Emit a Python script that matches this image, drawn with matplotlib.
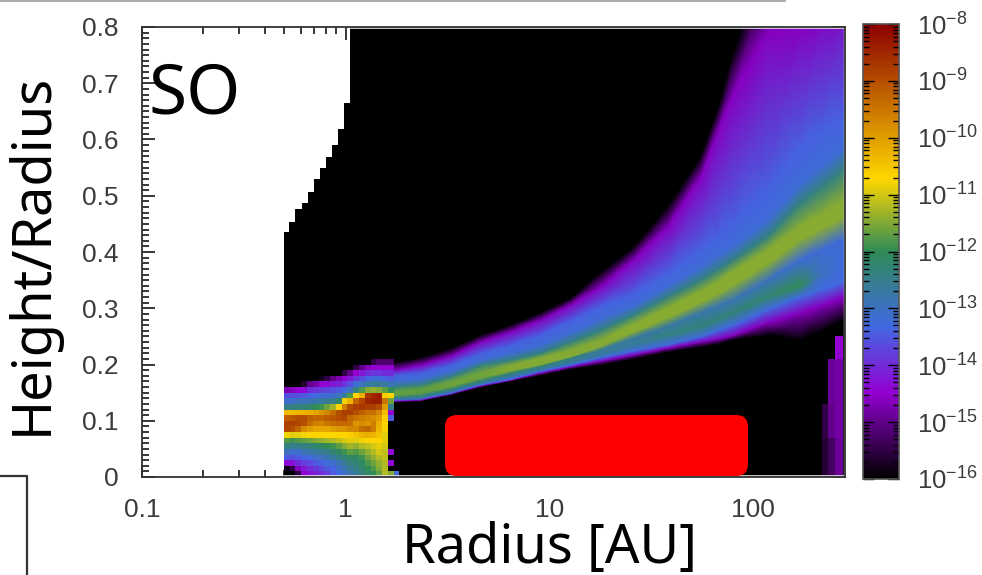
import matplotlib
matplotlib.use('Agg')
import matplotlib.pyplot as plt
import numpy as np
from matplotlib.colors import LinearSegmentedColormap, Normalize
from matplotlib.cm import ScalarMappable
from matplotlib.lines import Line2D
from matplotlib.patches import FancyBboxPatch
from matplotlib.ticker import FixedLocator, FuncFormatter, MultipleLocator
from matplotlib.transforms import IdentityTransform

# white/black edge of the model domain
edge_radius = [0.497, 0.525, 0.562, 0.608, 0.651, 0.697, 0.746, 0.798, 0.854, 0.914, 0.978, 1.046, 282]
edge_height = [0.436, 0.453, 0.476, 0.487, 0.507, 0.530, 0.549, 0.569, 0.590, 0.619, 0.665, 0.80]

# outer disk: height of each abundance level at these radii
radius = [1.72, 2.33, 3.27, 4.59, 6.44, 9.03, 12.7, 17.8, 25.8, 37.9, 55.0, 66.6, 79.8, 117, 170, 213, 282]
low_black = [.133, .135, .146, .160, .171, .181, .192, .199, .210, .222, .231, .236, .244, .252, .244, .258, .279]
low_purple = [.135, .137, .148, .162, .172, .185, .196, .206, .217, .229, .240, .245, .252, .274, .292, .304, .320]
low_blue = [.137, .139, .149, .164, .174, .188, .199, .212, .224, .235, .249, .260, .270, .297, .320, .332, .347]
low_ridge = [.139, .140, .153, .167, .180, .192, .204, .217, .235, .252, .267, .279, .292, .320, .341, .359, .377]
mid_gap = [.142, .144, .156, .171, .185, .197, .212, .226, .247, .268, .292, .304, .315, .350, .386, .404, .425]
ridge_lo = [.145, .149, .161, .176, .189, .200, .214, .232, .258, .283, .310, .325, .342, .379, .422, .440, .464]
ridge_hi = [.153, .157, .169, .186, .199, .212, .226, .244, .272, .301, .330, .347, .366, .403, .446, .466, .492]
up_teal = [.160, .164, .178, .199, .208, .220, .240, .261, .288, .320, .350, .368, .386, .427, .487, .514, .549]
up_blue_lo = [.170, .174, .188, .207, .220, .234, .256, .280, .304, .338, .372, .392, .410, .455, .520, .550, .585]
up_blue_hi = [.181, .185, .199, .219, .234, .252, .277, .303, .325, .363, .405, .428, .450, .510, .585, .615, .640]
up_purple = [.190, .199, .215, .240, .258, .279, .306, .338, .386, .444, .533, .612, .683, .79, .80, .82, .85]
top_black = [.203, .212, .228, .252, .270, .292, .318, .364, .409, .480, .569, .652, .754, .95, 1.10, 1.20, 1.30]

# log abundance on those levels
low_ridge_value = [-12.7, -12.7, -12.7, -12.6, -12.6, -12.6, -12.6, -12.7, -12.6, -12.4, -12.3, -12.3, -12.3, -12.2, -12.0, -13.0, -13.3]
mid_gap_value = [-12.4, -12.4, -12.3, -12.3, -12.3, -12.3, -12.4, -12.6, -12.7, -12.7, -12.8, -12.9, -12.9, -13.0, -13.2, -13.2, -13.2]
ridge_value = [-11.7, -11.7, -11.6, -11.6, -11.5, -11.5, -11.5, -11.5, -11.45, -11.45, -11.45, -11.45, -11.45, -11.45, -11.45, -11.45, -11.45]
flat_values = {'black': -16.0, 'purple': -14.6, 'blue_hi': -13.4, 'blue': -13.3, 'blue_lo': -13.2, 'teal': -12.4}

# inner disk, log abundance, one list per radial cell, height going up in 0.01 steps
inner_cols = [
    [-16, -15.8, -14.4, -13.5, -13, -12.4, -11.8, -10.8, -8.9, -8.8, -9.2, -10.4, -12.5, -13.1, -13.6, -14.7, -16, -16, -16, -16, -16, -16],
    [-16, -15.5, -14.3, -13.6, -13.1, -12.5, -11.9, -10.9, -9, -8.8, -9.1, -10.4, -12.4, -13.1, -13.6, -14.6, -16, -16, -16, -16, -16, -16],
    [-15.5, -14.6, -14, -13.5, -13.1, -12.5, -11.8, -10.9, -9.3, -8.9, -9, -10.3, -12.4, -13, -13.6, -14.5, -16, -16, -16, -16, -16, -16],
    [-14.5, -14.2, -13.8, -13.4, -12.9, -12.4, -11.7, -10.8, -9.8, -9, -9, -10.3, -12.3, -13, -13.5, -14.4, -15.6, -16, -16, -16, -16, -16],
    [-14.3, -14, -13.7, -13.3, -12.8, -12.3, -11.6, -10.7, -10, -9.4, -9.2, -10.2, -12.2, -12.9, -13.4, -14, -15, -16, -16, -16, -16, -16],
    [-14.1, -13.9, -13.5, -13.1, -12.7, -12.2, -11.5, -10.7, -10.1, -9.6, -9.3, -10.1, -12, -12.8, -13.3, -13.9, -14.8, -16, -16, -16, -16, -16],
    [-14, -13.7, -13.4, -13, -12.6, -12.1, -11.4, -10.7, -10.1, -9.7, -9.3, -9.9, -11.9, -12.7, -13.2, -13.8, -14.5, -15.8, -16, -16, -16, -16],
    [-13.8, -13.5, -13.2, -12.9, -12.5, -12, -11.3, -10.7, -10.1, -9.5, -9.2, -9.7, -11.6, -12.6, -13.2, -13.7, -14.4, -15.5, -16, -16, -16, -16],
    [-13.5, -13.4, -13.1, -12.7, -12.3, -11.9, -11.2, -10.7, -10, -9.4, -9.1, -9.4, -11.3, -12.5, -13.1, -13.6, -14.2, -15, -16, -16, -16, -16],
    [-13.3, -13.1, -12.9, -12.5, -12.1, -11.7, -11.1, -10.7, -9.9, -9.3, -9, -9, -10.7, -12.2, -13, -13.5, -14.1, -14.7, -16, -16, -16, -16],
    [-13.1, -12.9, -12.6, -12.3, -11.9, -11.5, -11, -10.7, -9.9, -9.3, -8.9, -8.8, -9.6, -10.8, -12.6, -13.3, -13.9, -14.5, -15.5, -16, -16, -16],
    [-12.8, -12.6, -12.4, -12.1, -11.7, -11.3, -10.9, -10.6, -9.7, -9.4, -9.3, -8.8, -9, -10.3, -11.8, -13, -13.6, -14.2, -15, -16, -16, -16],
    [-12.6, -12.5, -12.3, -12.1, -11.8, -11.4, -10.9, -10.5, -9.7, -9.9, -9.5, -9, -8.8, -9.3, -10.7, -12.4, -13.2, -13.9, -14.5, -15.5, -16, -16],
    [-12.4, -12.2, -12.1, -11.9, -11.6, -11.2, -10.8, -10.3, -9.4, -9.8, -9.6, -9.2, -8.7, -8.9, -10.2, -11.8, -13, -13.6, -14.2, -15, -16, -16],
    [-12.1, -12, -11.8, -11.6, -11.4, -11.1, -10.7, -10.2, -9.3, -9.9, -9.7, -9.4, -8.8, -8.5, -8.7, -11.5, -12.7, -13.4, -14, -14.6, -16, -16],
    [-12, -11.8, -11.6, -11.4, -11.2, -11, -10.7, -10.3, -9.6, -9.6, -9.8, -9.4, -8.8, -8.4, -8.5, -11.4, -12.6, -13.3, -13.9, -14.5, -15.5, -16],
    [-11.7, -11.5, -11.4, -11.2, -11, -10.9, -10.7, -10.5, -10.3, -10.2, -10, -9.7, -9, -8.4, -8.4, -11.5, -12.6, -13.3, -13.9, -14.5, -15.2, -16],
    [-11.2, -11.2, -11.2, -11.1, -11.1, -11, -10.9, -10.9, -10.8, -10.7, -10.6, -10.4, -10, -9.5, -10.6, -11.7, -12.7, -13.4, -14, -14.5, -15.2, -16],
    [-11.5, -16, -14.4, -16, -14.4, -16, -16, -16, -16, -16, -13.5, -14.5, -12.5, -11.6, -10.7, -12, -12.9, -13.5, -14, -14.5, -15.2, -16],
]

# purple strip at the outer edge
strip_radius = [218, 233, 252, 276]
strip_height = [0, 0.07, 0.13, 0.21, 0.25]
strip_values = [[-15.6, -15.3, -14.9],
                [-15.5, -15.0, -14.8],
                [-16.0, -14.9, -14.8],
                [-16.0, -16.0, -14.5]]

cmap = LinearSegmentedColormap.from_list('so', [
    (0.0, 'black'), (0.19, 'darkviolet'), (0.335, 'royalblue'),
    (0.5, 'seagreen'), (0.66, 'gold'), (1.0, 'darkred')])
norm = Normalize(-16, -8)

W, H = 982, 575
plt.rcParams['mathtext.default'] = 'regular'
plt.rcParams['font.family'] = ['Liberation Sans', 'DejaVu Sans']
fig = plt.figure(figsize=(W / 100, H / 100), dpi=100)
ax = fig.add_axes([142 / W, 1 - 477 / H, 703 / W, 450 / H])
ax.set_xscale('log')
ax.set_xlim(0.1, 282)
ax.set_ylim(0, 0.8)

# black domain
ax.fill_between(edge_radius, [0] * 13, edge_height + [0.8], step='post', color='black', lw=0, zorder=1)

levels = [low_black, low_purple, low_blue, low_ridge, mid_gap, ridge_lo, ridge_hi, up_teal,
          up_blue_lo, up_blue_hi, up_purple, top_black]
n = len(radius)
values = [[flat_values['black']] * n, [flat_values['purple']] * n, [flat_values['blue']] * n,
          low_ridge_value, mid_gap_value, ridge_value, ridge_value,
          [flat_values['teal']] * n, [flat_values['blue_lo']] * n, [flat_values['blue_hi']] * n,
          [flat_values['purple']] * n, [flat_values['black']] * n]
X = np.tile(radius, (len(levels), 1))
ax.pcolormesh(X, np.array(levels), np.array(values), shading='gouraud', cmap=cmap, norm=norm, zorder=2)

inner = np.array(inner_cols).T
inner_r = np.geomspace(0.497, 1.72, inner.shape[1] + 1)
inner_h = np.arange(inner.shape[0] + 1) * 0.01
ax.pcolormesh(inner_r, inner_h, inner, cmap=cmap, norm=norm, zorder=3)

ax.pcolormesh(strip_radius, strip_height, np.array(strip_values), cmap=cmap, norm=norm, zorder=3)
ax.pcolormesh([1.72, 1.83], [0, 0.01], [[-13.2]], cmap=cmap, norm=norm, zorder=3)

# thin pale line just inside the frame
ax.plot([0.497, 282], [0.002, 0.002], color='#e6e6e6', lw=1.2, zorder=4)
ax.plot([1.05, 282], [0.798, 0.798], color='#e6e6e6', lw=1.2, zorder=4)
ax.plot([278, 278], [0, 0.8], color='#e6e6e6', lw=1.0, zorder=4, alpha=0.8)

ax.xaxis.set_major_formatter(FuncFormatter(lambda v, p: f'{v:g}'))
ax.yaxis.set_major_locator(MultipleLocator(0.1))
ax.yaxis.set_minor_locator(MultipleLocator(0.01))
ax.yaxis.set_major_formatter(FuncFormatter(lambda v, p: f'{v:g}'))
ax.tick_params(which='both', direction='in', top=True, right=True, color='black', width=1.1)
ax.tick_params(which='major', length=9, labelsize=19, labelcolor='#3c3c3c')
ax.tick_params(which='minor', length=5, labelbottom=False)
ax.tick_params(axis='x', which='major', pad=15)
ax.tick_params(axis='y', which='major', pad=17)
for s in ax.spines.values():
    s.set_linewidth(1.3)
    s.set_color('#333333')
    s.set_zorder(6)

# colour bar
cax = fig.add_axes([863 / W, 1 - 479 / H, 36 / W, 455 / H])
cb = fig.colorbar(ScalarMappable(norm=norm, cmap=cmap), cax=cax)
cb.set_ticks(np.arange(-16, -7))
cb.ax.yaxis.set_major_formatter(FuncFormatter(lambda v, p: rf'$10^{{{int(round(v))}}}$'))
minor = [d + np.log10(m) for d in range(-16, -8) for m in range(2, 10)]
cb.ax.yaxis.set_minor_locator(FixedLocator(minor))
cb.ax.tick_params(which='both', direction='in', left=True, right=True, color='black', width=1.0)
cb.ax.tick_params(which='major', length=8, labelsize=18.5, labelcolor='#3c3c3c', pad=13)
cb.ax.tick_params(which='minor', length=4)
cb.outline.set_edgecolor('#555555')
cb.outline.set_linewidth(1.2)

# big labels pasted on top of the plot
big = ['Noto Sans', 'DejaVu Sans']
fig.text(149 / W, 1 - 114 / H, 'SO', fontsize=50, family=big, color='black', ha='left', va='baseline')
fig.text(60 / W, 1 - 254 / H, 'Height/Radius', fontsize=39, family=big, color='black',
         rotation=90, ha='right', va='center')
fig.text(550 / W, 1 - 563 / H, 'Radius [AU]', fontsize=39, family=big, color='black', ha='center', va='baseline')

ax.add_patch(FancyBboxPatch((445, H - 476), 303, 61, boxstyle='round,pad=0,rounding_size=12',
                            facecolor='#ff0000', edgecolor='none', lw=0,
                            transform=IdentityTransform(), clip_on=False, zorder=8))

# slide leftovers
fig.add_artist(Line2D([0, 785 / W], [1 - 0.6 / H, 1 - 0.6 / H], color='#9a9a9a', lw=1.2))
fig.add_artist(Line2D([0, 27 / W, 27 / W], [1 - 476 / H, 1 - 476 / H, 0], color='#333333', lw=1.6))

fig.savefig('out.png', dpi=100)
